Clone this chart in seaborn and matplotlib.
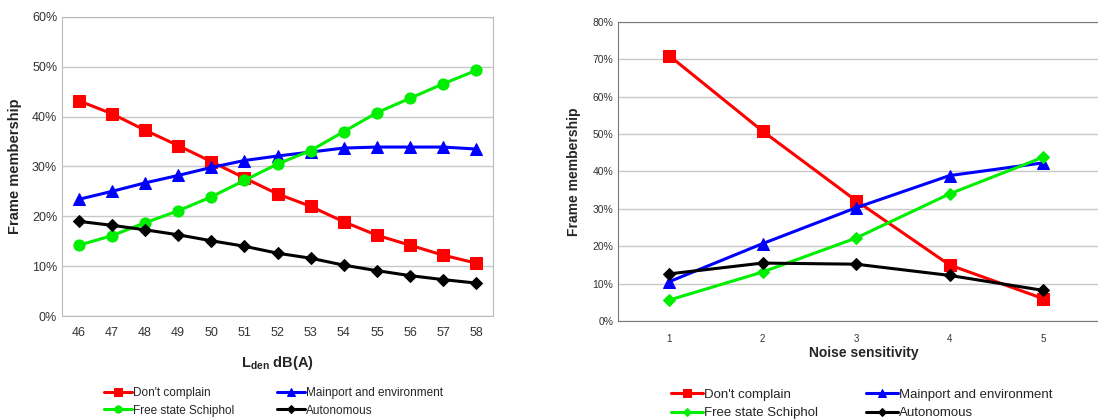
import numpy as np
import pandas as pd
import matplotlib
matplotlib.use("Agg")
import matplotlib.pyplot as plt
import seaborn as sns
from matplotlib.ticker import FuncFormatter, FixedLocator

# Données
lden = [46, 47, 48, 49, 50, 51, 52, 53, 54, 55, 56, 57, 58]
left_dont = [43.2, 40.6, 37.3, 34.2, 31.0, 27.7, 24.5, 22.0, 18.9, 16.2, 14.2, 12.2, 10.6]
left_mainport = [23.4, 25.0, 26.7, 28.2, 29.8, 31.2, 32.1, 32.9, 33.7, 33.9, 33.9, 33.9, 33.5]
left_free = [14.2, 16.1, 18.7, 21.1, 23.9, 27.2, 30.5, 33.2, 37.0, 40.8, 43.7, 46.6, 49.3]
left_auto = [19.0, 18.2, 17.3, 16.3, 15.1, 14.0, 12.6, 11.6, 10.2, 9.1, 8.1, 7.3, 6.6]

sensitivity = [1, 2, 3, 4, 5]
right_dont = [71.0, 50.8, 32.2, 15.0, 6.0]
right_mainport = [10.5, 20.7, 30.3, 38.9, 42.3]
right_free = [5.6, 13.1, 22.2, 34.0, 43.8]
right_auto = [12.6, 15.5, 15.2, 12.2, 8.2]

labels = ["Don't complain", "Mainport and environment", "Free state Schiphol", "Autonomous"]
colors = ["#ff0000", "#0000ff", "#00ee00", "#000000"]

sns.set_style("white")
plt.rcParams['font.family'] = ['Liberation Sans', 'DejaVu Sans']
plt.rcParams['mathtext.fontset'] = 'custom'
plt.rcParams['mathtext.rm'] = 'Liberation Sans'
plt.rcParams['mathtext.bf'] = 'Liberation Sans:bold'

fig = plt.figure(figsize=(10.98, 4.2), dpi=100)
ax1 = fig.add_axes([0.0565, 0.2476, 0.3925, 0.712])
# le panneau droit est coupé par le bord de l'image
ax2 = fig.add_axes([0.563, 0.2357, 0.447, 0.712])


def draw_panel(ax, x, series, markers, msizes):
    handles = []
    for vals, lab, col, mk, ms in zip(series, labels, colors, markers, msizes):
        sns.lineplot(x=x, y=vals, ax=ax, color=col, marker=mk, markersize=ms,
                     linewidth=2.2, markeredgecolor=col, label=lab, legend=False)
        handles.append(ax.lines[-1])
    return handles


pct = FuncFormatter(lambda v, p: f"{v:.0f}%")
tick_col = '#333333'

# Panneau gauche
h1 = draw_panel(ax1, lden, [left_dont, left_mainport, left_free, left_auto],
                ["s", "^", "o", "D"], [8, 8, 8, 6])
ax1.set_xlim(45.5, 58.5)
ax1.set_ylim(0, 60)
ax1.set_yticks(np.arange(0, 61, 10))
ax1.yaxis.set_major_formatter(pct)
ax1.set_xticks(lden)
ax1.xaxis.set_minor_locator(FixedLocator(np.arange(45.5, 58.6, 1)))
ax1.tick_params(axis='x', which='major', length=0, labelsize=9, pad=8, labelcolor=tick_col)
ax1.tick_params(axis='x', which='minor', length=4, color='#888888', direction='out')
ax1.tick_params(axis='y', labelsize=9, length=0, labelcolor=tick_col)
ax1.grid(axis='y', color='#c8c8c8', linewidth=1)
ax1.set_axisbelow(True)
for s in ax1.spines.values():
    s.set_color('#bbbbbb')
ax1.set_ylabel("Frame membership", fontsize=10.5, fontweight='bold', labelpad=7)
ax1.set_xlabel(r"L$_{\mathbf{den}}$ dB(A)", fontsize=10.5, fontweight='bold', labelpad=11)

# Panneau droit
h2 = draw_panel(ax2, sensitivity, [right_dont, right_mainport, right_free, right_auto],
                ["s", "^", "D", "D"], [8, 8, 6, 6])
ax2.set_xlim(0.455, 5.706)
ax2.set_ylim(0, 80)
ax2.set_yticks(np.arange(0, 81, 10))
ax2.yaxis.set_major_formatter(pct)
ax2.set_xticks(sensitivity)
ax2.xaxis.set_minor_locator(FixedLocator(np.arange(0.5, 5.6, 1)))
ax2.tick_params(axis='x', which='major', length=0, labelsize=7, pad=9, labelcolor=tick_col)
ax2.tick_params(axis='x', which='minor', length=3, color='#888888', direction='out')
ax2.tick_params(axis='y', labelsize=7.5, length=0, labelcolor=tick_col)
ax2.grid(axis='y', color='#c8c8c8', linewidth=1)
ax2.set_axisbelow(True)
for s in ax2.spines.values():
    s.set_color('#777777')
ax2.set_ylabel("Frame membership", fontsize=10, fontweight='bold', labelpad=8)
ax2.set_xlabel("Noise sensitivity", fontsize=10, fontweight='bold', labelpad=2)

# Légendes (ordre colonne par colonne)
order = [0, 2, 1, 3]
fig.legend([h1[i] for i in order], [labels[i] for i in order], ncol=2,
           loc='center', bbox_to_anchor=(0.249, 0.043), frameon=False,
           fontsize=8.5, handlelength=2.4, handletextpad=0.1, columnspacing=3.6,
           labelspacing=0.45, markerscale=0.65)
fig.legend([h2[i] for i in order], [labels[i] for i in order], ncol=2,
           loc='center', bbox_to_anchor=(0.785, 0.038), frameon=False,
           fontsize=9.5, handlelength=2.4, handletextpad=0.1, columnspacing=3.6,
           labelspacing=0.45, markerscale=0.65)

fig.savefig("out.png", dpi=100)
